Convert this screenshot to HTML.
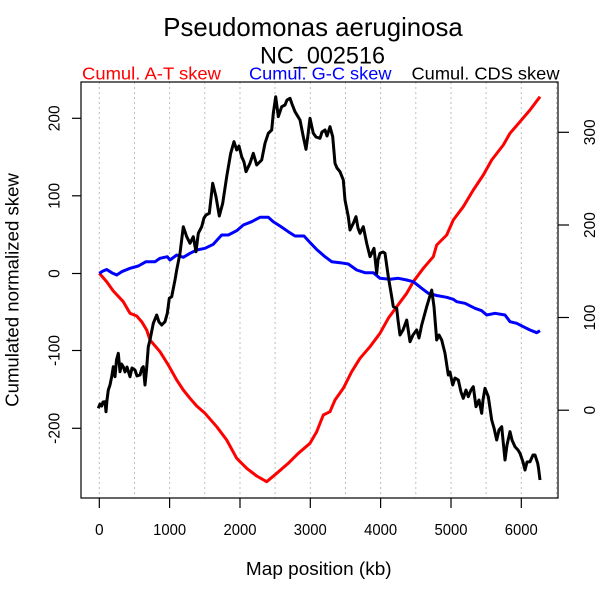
<!DOCTYPE html>
<html>
<head>
<meta charset="utf-8">
<style>
  html, body { margin:0; padding:0; background:#fff; }
  svg { display:block; }
  text { font-family: "Liberation Sans", "DejaVu Sans", sans-serif; }
</style>
</head>
<body>
<svg width="600" height="600" viewBox="0 0 600 600" xmlns="http://www.w3.org/2000/svg">
  <rect x="0" y="0" width="600" height="600" fill="#fff"/>

  <!-- grid -->
  <g stroke="#bebebe" stroke-width="1" stroke-dasharray="2,3">
    <line x1="99.3" y1="82" x2="99.3" y2="498"/>
    <line x1="134.5" y1="82" x2="134.5" y2="498"/>
    <line x1="169.6" y1="82" x2="169.6" y2="498"/>
    <line x1="204.8" y1="82" x2="204.8" y2="498"/>
    <line x1="240" y1="82" x2="240" y2="498"/>
    <line x1="275.1" y1="82" x2="275.1" y2="498"/>
    <line x1="310.3" y1="82" x2="310.3" y2="498"/>
    <line x1="345.5" y1="82" x2="345.5" y2="498"/>
    <line x1="380.6" y1="82" x2="380.6" y2="498"/>
    <line x1="415.8" y1="82" x2="415.8" y2="498"/>
    <line x1="451" y1="82" x2="451" y2="498"/>
    <line x1="486.1" y1="82" x2="486.1" y2="498"/>
    <line x1="521.3" y1="82" x2="521.3" y2="498"/>
    <line x1="556.5" y1="82" x2="556.5" y2="498"/>
  </g>

  <!-- series -->
  <polyline fill="none" stroke="#ff0000" stroke-width="3" stroke-linejoin="round"
    points="99.3,273.3 106.7,281.7 113.3,291 123.3,301.7 130,313.3 136.7,316 141.7,321.7 146.7,330 150,340 160,351.7 168.3,365 176.7,380 183.3,390 190,398.3 196.7,406 205,413.3 216.7,426.7 226.7,440 236.7,458.3 246.7,468.3 256.7,476 266.7,481.7 276.7,473.3 288.3,463.3 298.3,453.3 310,443.3 316.7,431.7 323.3,415 330,411.7 335,400 343.3,388.3 351.7,371.7 360,358.3 370,346.7 380,333.3 388.3,318.3 396.7,306.7 406.7,293.3 413.3,281.7 423.3,268.3 433.3,256.7 436.7,245 446.7,235 453.3,220 463.3,206.7 473.3,190 483.3,175 491.7,160 503.3,145 510,133.3 520,121.7 530,110 540,96.7"/>

  <polyline fill="none" stroke="#0000ff" stroke-width="3" stroke-linejoin="round"
    points="99.3,273.3 103,271 106.7,269.5 111.7,272.7 116.7,275 121.7,271.7 130,268.3 138.3,266 146,261.7 155,261.7 160,258.3 167.3,256.7 170,260 176.7,255 183.3,257.3 190,253.3 196.7,250 205,248.3 213.3,244.3 221.7,235 228.3,235 236.7,230.7 243.3,225 251.7,221.7 260,217.3 268.3,217.3 273.3,221.7 280,226 288.3,231.7 295,236 304,236 310,242.5 316.7,249.5 325,256.7 331.7,261.7 340,262.7 348.3,264 356.7,270 365,272.7 373.3,272.7 380,278.3 390,279.3 398.3,278.3 406.7,280 413.3,281.7 421.7,288.3 428.3,293.3 436.7,295.5 446.7,297.3 453.3,299.3 456.7,301.7 465,303.3 475,308.3 481.7,310.7 486.7,315 495,313.3 505,315 510,321.7 516.7,323.3 523.3,326.7 530,330 536.7,332.7 540,330.7"/>

  <polyline fill="none" stroke="#000000" stroke-width="3" stroke-linejoin="round"
    points="98.3,408.3 100,404 101.7,406 103,402 105,401.7 106,411.7 107,400 108.3,390 110,385 111.7,376.7 113.3,366.7 115,376.7 116.5,360 118.3,353.3 120,371.7 121.5,364 123.3,366.7 125,372 127,367 130,376.7 132,368 135,370 137,376 140,375 142,368 143.3,366.7 145,385 146.5,370 148.3,346.7 150,340 153.3,323.3 156.7,315 159,322 161.7,325 165,321.7 167.3,313.3 169.3,298.3 171.7,296.7 175,280 176.7,270 180,253.3 183.3,226.7 186.7,236.7 190,243.3 193.3,236.7 196,251.7 198.3,233.3 201.7,226.7 204,218 206,215 209.3,213.3 212.7,183.3 216,196.7 219.3,216 222.7,203.3 226.7,176.7 230.7,153.3 234,141.7 236.7,150 239,146 241.7,156.7 244,162 246,171.7 250,163.3 253.3,153.3 256.7,165 261.7,160 265,143.3 268.3,133.3 271.7,130 273.3,113.3 275.7,96.7 278.3,116.7 281.7,106.7 285,105 287,100 290,98.3 292,104 295,111.7 300,120 303.3,136.7 306,149.3 308,135 310,118.3 313.3,133.3 316,137 320,138.3 322,132 325,130 327,136 330,126.7 332.7,136.7 335,163.3 337,168 340,171.7 343.3,180 345,200 348.3,216.7 350,230 353.3,223.3 356,216.7 358,228 360,233.3 363.3,226.7 366.7,243.3 370,256.7 374,248.3 376.7,273.3 378,260 380,253.3 383,252 385,253.3 388.3,276.7 391.7,296.7 393.3,306.7 396.7,308.3 398,320 400,335 403,330 406.7,320 410,341.7 413,335 416.7,330 419,338 421.7,325 426.7,306.7 431.7,290 434,306.7 436.7,340 439,335 441.7,340 445,353.3 448.3,375 450,372 452.7,385 455,378 458.3,380 461,392 463.3,398.3 466,390 468.3,396.7 471,390 473.3,386.7 476,406.7 479,400 481.7,413.3 483,400 485,388.3 488.3,396.7 491.7,420 494,428 496.7,440 499,430 501.7,426.7 503,440 505,460 507,445 510,431.7 512,440 515,446.7 518,450 520,453.3 523,462 525,470 527,462 530,461.7 533,455 535,455 537.7,463.3 538.5,468 540,480"/>

  <!-- plot box -->
  <rect x="81" y="82" width="477" height="416" fill="none" stroke="#000" stroke-width="1.2"/>

  <!-- ticks -->
  <g stroke="#000" stroke-width="1.2">
    <!-- bottom -->
    <line x1="99.3" y1="498" x2="99.3" y2="508"/>
    <line x1="169.6" y1="498" x2="169.6" y2="508"/>
    <line x1="240" y1="498" x2="240" y2="508"/>
    <line x1="310.3" y1="498" x2="310.3" y2="508"/>
    <line x1="380.6" y1="498" x2="380.6" y2="508"/>
    <line x1="451" y1="498" x2="451" y2="508"/>
    <line x1="521.3" y1="498" x2="521.3" y2="508"/>
    <!-- left -->
    <line x1="72" y1="118.3" x2="81" y2="118.3"/>
    <line x1="72" y1="195.8" x2="81" y2="195.8"/>
    <line x1="72" y1="273.5" x2="81" y2="273.5"/>
    <line x1="72" y1="350.5" x2="81" y2="350.5"/>
    <line x1="72" y1="428.3" x2="81" y2="428.3"/>
    <!-- right -->
    <line x1="558" y1="132.3" x2="569" y2="132.3"/>
    <line x1="558" y1="225" x2="569" y2="225"/>
    <line x1="558" y1="317.5" x2="569" y2="317.5"/>
    <line x1="558" y1="410.2" x2="569" y2="410.2"/>
  </g>

  <!-- bottom tick labels -->
  <g font-size="15.5" fill="#000" text-anchor="middle">
    <text x="99.3" y="535">0</text>
    <text x="169.6" y="535" textLength="33" lengthAdjust="spacingAndGlyphs">1000</text>
    <text x="240" y="535" textLength="33" lengthAdjust="spacingAndGlyphs">2000</text>
    <text x="310.3" y="535" textLength="33" lengthAdjust="spacingAndGlyphs">3000</text>
    <text x="380.6" y="535" textLength="33" lengthAdjust="spacingAndGlyphs">4000</text>
    <text x="451" y="535" textLength="33" lengthAdjust="spacingAndGlyphs">5000</text>
    <text x="521.3" y="535" textLength="33" lengthAdjust="spacingAndGlyphs">6000</text>
  </g>

  <!-- left tick labels (rotated) -->
  <g font-size="15.5" fill="#000" text-anchor="middle">
    <text transform="translate(59.3,118.3) rotate(-90)">200</text>
    <text transform="translate(59.3,195.8) rotate(-90)">100</text>
    <text transform="translate(59.3,273.5) rotate(-90)">0</text>
    <text transform="translate(59.3,350.5) rotate(-90)">-100</text>
    <text transform="translate(59.3,428.3) rotate(-90)">-200</text>
  </g>

  <!-- right tick labels (rotated) -->
  <g font-size="15.5" fill="#000" text-anchor="middle">
    <text transform="translate(595,132.3) rotate(-90)">300</text>
    <text transform="translate(595,225) rotate(-90)">200</text>
    <text transform="translate(595,317.5) rotate(-90)">100</text>
    <text transform="translate(595,410.2) rotate(-90)">0</text>
  </g>

  <!-- axis titles -->
  <text x="318.8" y="575" font-size="18.5" text-anchor="middle" textLength="145.7" lengthAdjust="spacingAndGlyphs">Map position (kb)</text>
  <text transform="translate(18.3,290) rotate(-90)" font-size="18.5" text-anchor="middle" textLength="233.7" lengthAdjust="spacingAndGlyphs">Cumulated normalized skew</text>

  <!-- title -->
  <text x="163.3" y="36" font-size="26" textLength="299.4" lengthAdjust="spacingAndGlyphs">Pseudomonas aeruginosa</text>
  <text x="260" y="63.3" font-size="24" textLength="125" lengthAdjust="spacingAndGlyphs">NC_002516</text>

  <!-- legend labels -->
  <text x="82" y="79.3" font-size="17.5" fill="#ff0000" textLength="139" lengthAdjust="spacingAndGlyphs">Cumul. A-T skew</text>
  <text x="249" y="79.3" font-size="17.5" fill="#0000ff" textLength="142.5" lengthAdjust="spacingAndGlyphs">Cumul. G-C skew</text>
  <text x="411.5" y="79.3" font-size="17.5" fill="#000000" textLength="148" lengthAdjust="spacingAndGlyphs">Cumul. CDS skew</text>
</svg>
</body>
</html>
